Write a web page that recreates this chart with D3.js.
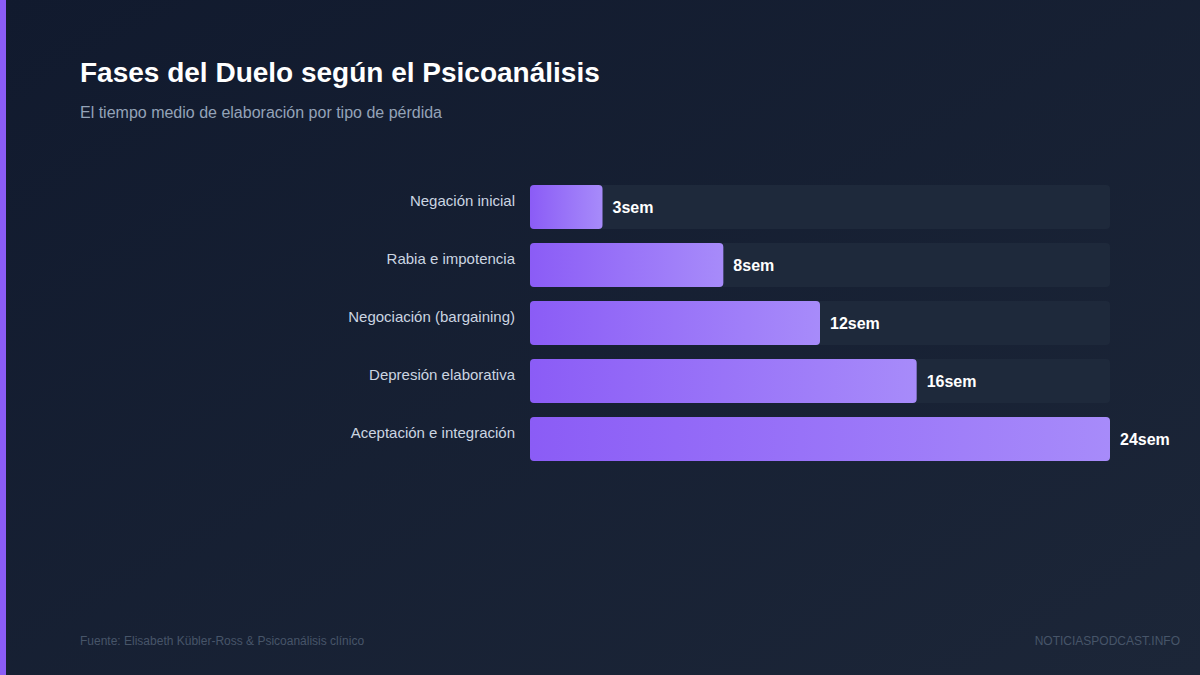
<!DOCTYPE html>
<html><head><meta charset="utf-8">
<script src="https://cdn.jsdelivr.net/npm/d3@7"></script>
<style>body{margin:0;background:#0f172a}svg{display:block}</style></head>
<body><svg id="c" width="1200" height="675"></svg>
<script>
const categories=["Negación inicial","Rabia e impotencia","Negociación (bargaining)","Depresión elaborativa","Aceptación e integración"];
const values=[3,8,12,16,24];
const unit="sem";
const F="Liberation Sans, Arial, sans-serif";
const svg=d3.select("#c");
const defs=svg.append("defs");
const bg=defs.append("linearGradient").attr("id","bg").attr("x1","0%").attr("y1","0%").attr("x2","100%").attr("y2","100%");
bg.append("stop").attr("offset","0%").attr("stop-color","#111a2e");
bg.append("stop").attr("offset","100%").attr("stop-color","#1c2638");
const bar=defs.append("linearGradient").attr("id","bar").attr("x1","0%").attr("x2","100%");
bar.append("stop").attr("offset","0%").attr("stop-color","#8b5cf6");
bar.append("stop").attr("offset","100%").attr("stop-color","#a78bfa");
svg.append("rect").attr("width",1200).attr("height",675).attr("fill","url(#bg)");
svg.append("rect").attr("width",6).attr("height",675).attr("fill","#8b5cf6");
svg.append("text").attr("x",80).attr("y",82).attr("fill","#fff").attr("font-family",F).attr("font-weight","bold").attr("font-size",28).text("Fases del Duelo según el Psicoanálisis");
svg.append("text").attr("x",80).attr("y",118).attr("fill","#94a3b8").attr("font-family",F).attr("font-size",16).text("El tiempo medio de elaboración por tipo de pérdida");
const x=d3.scaleLinear().domain([0,24]).range([530,1110]);
const y=d3.scaleBand().domain(categories).range([185,461]).paddingInner(14/58).paddingOuter(0);
const g=svg.append("g").selectAll("g").data(categories).join("g");
g.append("rect").attr("x",530).attr("y",d=>y(d)).attr("width",580).attr("height",y.bandwidth()).attr("rx",4).attr("fill","#1e293b");
g.append("rect").attr("x",530).attr("y",d=>y(d)).attr("width",(d,i)=>x(values[i])-530).attr("height",y.bandwidth()).attr("rx",4).attr("fill","url(#bar)");
g.append("text").attr("x",515).attr("y",d=>y(d)+y.bandwidth()/2-1).attr("text-anchor","end").attr("fill","#cbd5e1").attr("font-family",F).attr("font-size",15).text(d=>d);
g.append("text").attr("x",(d,i)=>x(values[i])+10).attr("y",d=>y(d)+y.bandwidth()/2+6).attr("fill","#fff").attr("font-family",F).attr("font-weight","bold").attr("font-size",16).text((d,i)=>values[i]+unit);
svg.append("text").attr("x",80).attr("y",645).attr("fill","#475569").attr("font-family",F).attr("font-size",12).text("Fuente: Elisabeth Kübler-Ross & Psicoanálisis clínico");
svg.append("text").attr("x",1180).attr("y",645).attr("text-anchor","end").attr("fill","#475569").attr("font-family",F).attr("font-size",12).text("NOTICIASPODCAST.INFO");
</script></body></html>
